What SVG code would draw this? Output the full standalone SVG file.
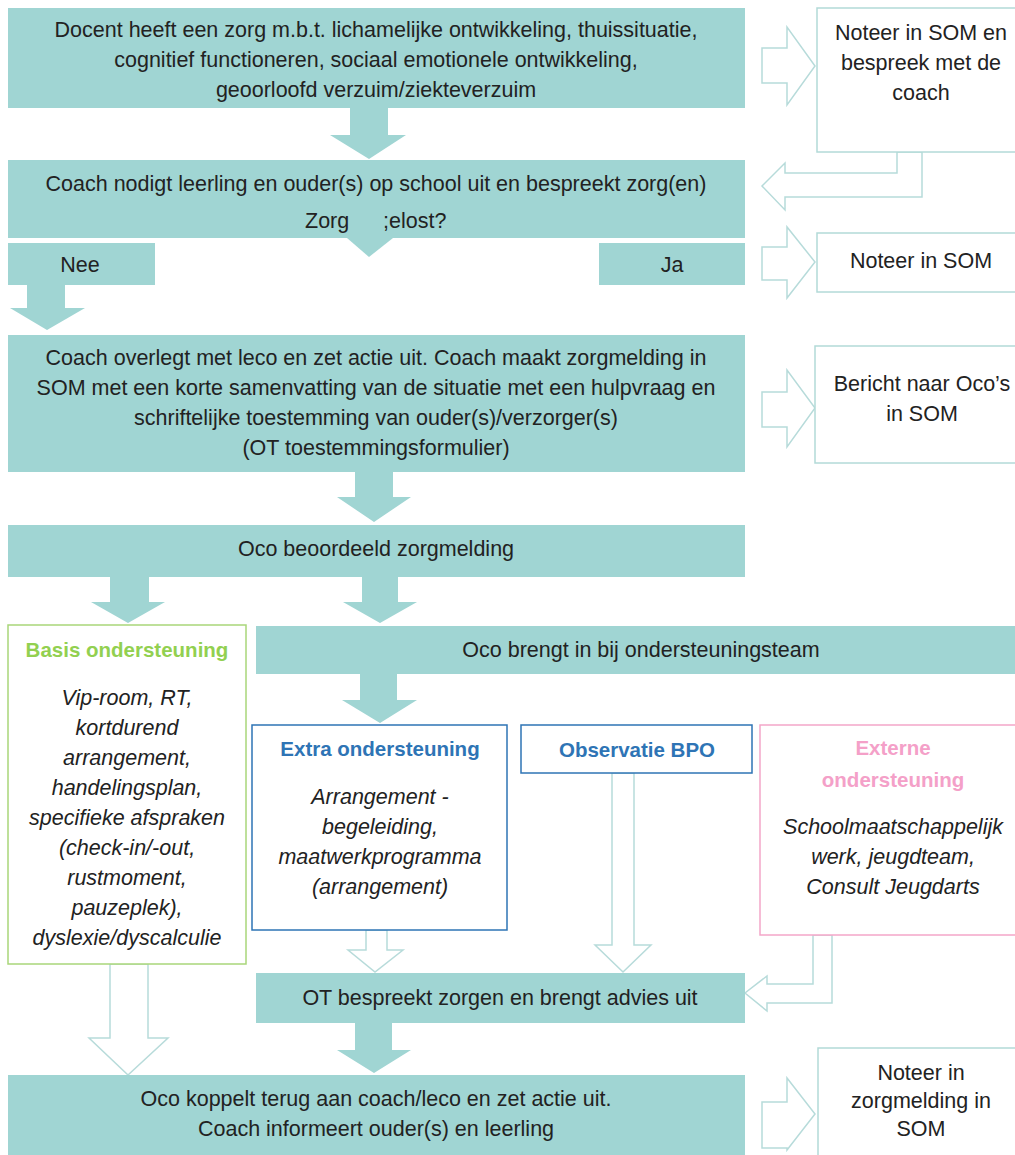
<svg xmlns="http://www.w3.org/2000/svg" width="1015" height="1155" viewBox="0 0 1015 1155">
<style>
text{font-family:"Liberation Sans",Arial,sans-serif;font-size:21.5px;fill:#222;text-anchor:middle}
.t{fill:#a0d5d3}
.o{fill:#fff;stroke:#b3dad8;stroke-width:1.5}
.h{fill:#fff;stroke:#b7dbda;stroke-width:1.5;stroke-linejoin:miter}
.f{fill:#a0d5d3}
.i{font-style:italic}
.bg{font-weight:bold;fill:#92d050;font-size:20.5px}
.bb{font-weight:bold;fill:#2e74b5;font-size:20.5px}
.bp{font-weight:bold;fill:#f4a0c8;font-size:20.5px}
</style>
<rect width="1015" height="1155" fill="#fff"/>
<g id="connectors">
<polygon class="f" points="350,108 388,108 388,135 406,135 369,159 330,135 350,135"/>
<polygon class="f" points="347,238 393,238 369,257"/>
<polygon class="f" points="27,285 65,285 65,308 85,308 47,330 10,308 27,308"/>
<polygon class="f" points="355,472 393,472 393,497 411,497 374,522 337,497 355,497"/>
<polygon class="f" points="110,577 149,577 149,602 165,602 128,623 91,602 110,602"/>
<polygon class="f" points="362,577 398,577 398,602 417,602 380,623 343,602 362,602"/>
<polygon class="f" points="360,674 397,674 397,700 417,700 380,723 342,700 360,700"/>
<polygon class="f" points="355,1023 392,1023 392,1050 411,1050 374,1073 337,1050 355,1050"/>
<polygon class="h" points="762,48 787,48 787,27 815,66 787,105 787,83 762,83"/>
<polygon class="h" points="897,152 897,173 785,173 785,163 762,186 785,210 785,197 922,197 922,152"/>
<polygon class="h" points="762,247 787,247 787,227 815,262 787,298 787,280 762,280"/>
<polygon class="h" points="762,392 787,392 787,370 815,408 787,447 787,427 762,427"/>
<polygon class="h" points="110,964 148,964 148,1038 168,1038 128,1075 89,1038 110,1038"/>
<polygon class="h" points="366,930 387,930 387,950 403,950 375,972 348,950 366,950"/>
<polygon class="h" points="612,773 634,773 634,945 651,945 623,972 595,945 612,945"/>
<polygon class="h" points="813,935 813,984 767,984 767,976 745,993 767,1011 767,1003 832,1003 832,935"/>
<polygon class="h" points="762,1102 787,1102 787,1078 815,1114 787,1150 787,1148 762,1148"/>
</g>
<g id="n1">
<rect class="t" x="8" y="8" width="737" height="100"/>
<text x="376" y="37">Docent heeft een zorg m.b.t. lichamelijke ontwikkeling, thuissituatie,</text>
<text x="376" y="67">cognitief functioneren, sociaal emotionele ontwikkeling,</text>
<text x="376" y="97">geoorloofd verzuim/ziekteverzuim</text>
</g>
<g id="r1">
<rect class="o" x="817" y="8" width="210" height="144"/>
<text x="921" y="40">Noteer in SOM en</text>
<text x="921" y="70">bespreek met de</text>
<text x="921" y="100">coach</text>
</g>
<g id="n2">
<rect class="t" x="8" y="160" width="737" height="78"/>
<text x="376" y="191">Coach nodigt leerling en ouder(s) op school uit en bespreekt zorg(en)</text>
<text x="305" y="228" style="text-anchor:start">Zorg</text>
<text x="383" y="228" style="text-anchor:start">;elost?</text>
</g>
<g id="nee">
<rect class="t" x="8" y="243" width="147" height="42"/>
<text x="80" y="272">Nee</text>
</g>
<g id="ja">
<rect class="t" x="599" y="243" width="146" height="42"/>
<text x="672" y="272">Ja</text>
</g>
<g id="r2">
<rect class="o" x="817" y="233" width="210" height="59"/>
<text x="921" y="268">Noteer in SOM</text>
</g>
<g id="n3">
<rect class="t" x="8" y="335" width="737" height="137"/>
<text x="376" y="365">Coach overlegt met leco en zet actie uit. Coach maakt zorgmelding in</text>
<text x="376" y="395">SOM met een korte samenvatting van de situatie met een hulpvraag en</text>
<text x="376" y="425">schriftelijke toestemming van ouder(s)/verzorger(s)</text>
<text x="376" y="455">(OT toestemmingsformulier)</text>
</g>
<g id="r3">
<rect class="o" x="815" y="346" width="210" height="117"/>
<text x="922" y="391">Bericht naar Oco’s</text>
<text x="922" y="421">in SOM</text>
</g>
<g id="n4">
<rect class="t" x="8" y="525" width="737" height="52"/>
<text x="376" y="556">Oco beoordeeld zorgmelding</text>
</g>
<g id="basis">
<rect x="8" y="625" width="238" height="339" fill="#fff" stroke="#a9d67a" stroke-width="1.5"/>
<text class="bg" x="127" y="657">Basis ondersteuning</text>
<text class="i" x="127" y="705">Vip-room, RT,</text>
<text class="i" x="127" y="735">kortdurend</text>
<text class="i" x="127" y="765">arrangement,</text>
<text class="i" x="127" y="795">handelingsplan,</text>
<text class="i" x="127" y="825">specifieke afspraken</text>
<text class="i" x="127" y="855">(check-in/-out,</text>
<text class="i" x="127" y="885">rustmoment,</text>
<text class="i" x="127" y="915">pauzeplek),</text>
<text class="i" x="127" y="945">dyslexie/dyscalculie</text>
</g>
<g id="ot-in">
<rect class="t" x="256" y="626" width="759" height="48"/>
<text x="641" y="657">Oco brengt in bij ondersteuningsteam</text>
</g>
<g id="extra">
<rect x="252" y="725" width="255" height="205" fill="#fff" stroke="#2e74b5" stroke-width="1.5"/>
<text class="bb" x="380" y="756">Extra ondersteuning</text>
<text class="i" x="380" y="804">Arrangement -</text>
<text class="i" x="380" y="834">begeleiding,</text>
<text class="i" x="380" y="864">maatwerkprogramma</text>
<text class="i" x="380" y="894">(arrangement)</text>
</g>
<g id="bpo">
<rect x="521" y="725" width="231" height="48" fill="#fff" stroke="#2e74b5" stroke-width="1.5"/>
<text class="bb" x="637" y="757">Observatie BPO</text>
</g>
<g id="extern">
<rect x="760" y="725" width="270" height="210" fill="#fff" stroke="#f4a6c9" stroke-width="1.5"/>
<text class="bp" x="893" y="755">Externe</text>
<text class="bp" x="893" y="787">ondersteuning</text>
<text class="i" x="893" y="834">Schoolmaatschappelijk</text>
<text class="i" x="893" y="864">werk, jeugdteam,</text>
<text class="i" x="893" y="894">Consult Jeugdarts</text>
</g>
<g id="ot">
<rect class="t" x="256" y="973" width="489" height="50"/>
<text x="500" y="1005">OT bespreekt zorgen en brengt advies uit</text>
</g>
<g id="n5">
<rect class="t" x="8" y="1075" width="737" height="85"/>
<text x="376" y="1106">Oco koppelt terug aan coach/leco en zet actie uit.</text>
<text x="376" y="1136">Coach informeert ouder(s) en leerling</text>
</g>
<g id="r4">
<rect class="o" x="818" y="1048" width="210" height="120"/>
<text x="921" y="1080">Noteer in</text>
<text x="921" y="1108">zorgmelding in</text>
<text x="921" y="1136">SOM</text>
</g>
</svg>
